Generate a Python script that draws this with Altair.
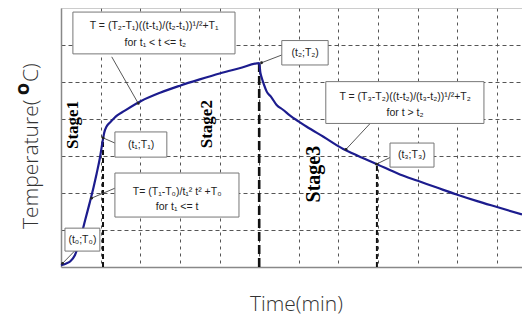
import altair as alt
import pandas as pd

# ---- curve (time in grid units, temperature in grid units)
curve_t = [0.00, 0.12, 0.23, 0.35, 0.48, 0.61, 0.73, 0.82, 0.90, 0.98, 1.06,
           1.09, 1.15, 1.25, 1.41, 1.60, 2.01, 2.50, 3.00, 3.50, 4.00, 4.50, 5.00,
           5.03, 5.06, 5.12, 5.19, 5.30, 5.44, 5.60, 5.78, 6.00, 6.20, 6.62, 7.12,
           7.50, 7.97, 8.55, 9.00, 9.50, 9.98, 10.50, 11.00, 11.63]
curve_T = [0.05, 0.09, 0.15, 0.32, 0.73, 1.27, 1.76, 2.15, 2.53, 2.94, 3.46,
           3.63, 3.80, 3.92, 4.09, 4.22, 4.48, 4.71, 4.90, 5.07, 5.23, 5.37, 5.51,
           5.25, 5.13, 4.93, 4.74, 4.60, 4.38, 4.25, 4.09, 3.93, 3.79, 3.52, 3.19,
           3.00, 2.78, 2.50, 2.33, 2.14, 1.96, 1.78, 1.62, 1.42]

# ---- stage boundary markers
marker_t = [1.06, 7.97]
marker_T = [3.46, 2.78]
peak_t = [5.00]
peak_T = [5.51]

# ---- annotation boxes
box_t1 = [0.30, 1.36, 5.57, 6.68, 8.30, 1.36, 0.10]
box_t2 = [4.39, 2.67, 6.74, 10.67, 9.41, 4.49, 0.98]
box_T1 = [5.76, 2.97, 5.46, 3.88, 2.70, 1.35, 0.43]
box_T2 = [6.89, 3.65, 6.12, 5.01, 3.35, 2.54, 1.05]

# ---- annotation texts
note_t = [2.35, 2.38, 2.02, 6.16, 8.68, 8.68, 8.85, 2.93, 2.93, 0.54]
note_T = [6.51, 6.05, 3.31, 5.79, 4.60, 4.15, 3.03, 2.04, 1.61, 0.74]
note_text = ["T = (T\u2082-T\u2081)((t-t\u2081)/(t\u2082-t\u2081))\u00b9/\u00b2+T\u2081",
             "for t\u2081 < t <= t\u2082",
             "(t\u2081;T\u2081)",
             "(t\u2082;T\u2082)",
             "T = (T\u2083-T\u2082)((t-t\u2082)/(t\u2083-t\u2082))\u00b9/\u00b2+T\u2082",
             "for t > t\u2082",
             "(t\u2083;T\u2083)",
             "T= (T\u2081-T\u2080)/t\u2081\u00b2 t\u00b2 +T\u2080",
             "for t\u2081 <= t",
             "(t\u2080;T\u2080)"]

# ---- leader lines (from box to curve)
lead_t1 = [1.28, 1.36, 5.57, 7.80, 8.30, 1.36, 0.35]
lead_T1 = [5.68, 3.35, 5.73, 3.88, 2.96, 2.13, 0.44]
lead_t2 = [1.95, 1.06, 5.06, 7.19, 7.96, 0.77, 0.04]
lead_T2 = [4.42, 3.49, 5.52, 3.18, 2.78, 1.86, 0.10]

# ---- stage labels
stage_t = [0.30, 3.68, 6.38]
stage_T = [3.84, 3.86, 2.51]
stage_text = ["Stage1", "Stage2", "Stage3"]
stage_size = [17, 17, 20]

# ---- y title pieces
ytitle_t = [-0.73, -0.95, -0.73]
ytitle_T = [1.03, 4.64, 5.00]
ytitle_text = ["Temperature(", "o", "C)"]
ytitle_weight = ["normal", "bold", "normal"]

x_ticks = list(range(1, 12))
y_ticks = list(range(1, 7))

xs = alt.Scale(domain=[0, 11.63], nice=False, zero=False)
ys = alt.Scale(domain=[0, 7], nice=False, zero=False)

xaxis = alt.Axis(values=x_ticks, labels=False, ticks=False, grid=True,
                 gridColor="#555", gridDash=[3, 4], gridWidth=1,
                 domainColor="#888", domainWidth=1.5,
                 title="Time(min)", titleFont="Open Sans", titleFontSize=21,
                 titleFontWeight=300, titleColor="#333",
                 titleX=235, titleY=37, titleBaseline="middle", titleAlign="center")
yaxis = alt.Axis(values=y_ticks, labels=False, ticks=False, grid=True,
                 gridColor="#555", gridDash=[4, 3], gridWidth=1,
                 domainColor="#888", domainWidth=1.5, title="")

def X(f="t"):
    return alt.X(f + ":Q", scale=xs, axis=xaxis)

def Y(f="T"):
    return alt.Y(f + ":Q", scale=ys, axis=yaxis)

curve_df = pd.DataFrame({"t": curve_t, "T": curve_T, "o": range(len(curve_t))})
marker_df = pd.DataFrame({"t": marker_t, "T": marker_T, "z": [0.0] * len(marker_t)})
peak_df = pd.DataFrame({"t": peak_t, "T": peak_T, "z": [0.0]})
box_df = pd.DataFrame({"t": box_t1, "t2": box_t2, "T": box_T1, "T2": box_T2})
note_df = pd.DataFrame({"t": note_t, "T": note_T, "label": note_text})
lead_df = pd.DataFrame({"t": lead_t1, "T": lead_T1, "t2": lead_t2, "T2": lead_T2})
stage_df = pd.DataFrame({"t": stage_t, "T": stage_T, "label": stage_text, "fs": stage_size})
yt_df = pd.DataFrame({"t": ytitle_t, "T": ytitle_T, "label": ytitle_text, "w": ytitle_weight})

top_border = alt.Chart(pd.DataFrame({"t": [0.0], "t2": [11.63], "T": [7.0]})).mark_rule(
    color="#999", strokeWidth=1).encode(x=X(), x2="t2:Q", y=Y())

markers = alt.Chart(marker_df).mark_rule(color="#111", strokeWidth=2, strokeDash=[5, 3]).encode(
    x=X(), y=Y("z"), y2="T:Q")
peak = alt.Chart(peak_df).mark_rule(color="#111", strokeWidth=2.6, strokeDash=[9, 4]).encode(
    x=X(), y=Y("z"), y2="T:Q")

curve = alt.Chart(curve_df).mark_line(color="#1c1c8e", strokeWidth=2.2, interpolate="monotone").encode(
    x=X(), y=Y(), order="o:Q")

leads = alt.Chart(lead_df).mark_rule(color="#444", strokeWidth=0.9).encode(
    x=X(), y=Y(), x2="t2:Q", y2="T2:Q")
lead_ends = alt.Chart(lead_df).mark_point(color="#222", filled=True, size=8, opacity=1).encode(
    x=X("t2"), y=Y("T2"))

boxes = alt.Chart(box_df).mark_rect(fill="white", stroke="#777", strokeWidth=1).encode(
    x=X(), x2="t2:Q", y=Y(), y2="T2:Q")

notes = alt.Chart(note_df).mark_text(font="Liberation Sans", fontSize=10.5, color="#222",
                                     align="center", baseline="middle").encode(
    x=X(), y=Y(), text="label:N")

stages = alt.Chart(stage_df).mark_text(font="Liberation Serif", fontWeight="bold",
                                       color="#000", angle=270, align="center",
                                       baseline="middle").encode(
    x=X(), y=Y(), text="label:N", size=alt.Size("fs:Q", scale=None, legend=None))

ytitle_main = alt.Chart(yt_df[yt_df.w == "normal"]).mark_text(
    font="Open Sans", fontSize=21, fontWeight=300, color="#333", angle=270,
    align="left", baseline="middle").encode(x=X(), y=Y(), text="label:N")
ytitle_o = alt.Chart(yt_df[yt_df.w == "bold"]).mark_text(
    font="Open Sans", fontSize=20, fontWeight="bold", color="#111", angle=270,
    align="left", baseline="middle").encode(x=X(), y=Y(), text="label:N")

chart = alt.layer(
    top_border, markers, peak, curve, leads, lead_ends, boxes, notes, stages,
    ytitle_main, ytitle_o
).properties(
    width=461, height=259,
    autosize=alt.AutoSizeParams(type="none"),
    padding={"left": 53, "top": 0, "right": 0, "bottom": 48},
).configure_view(strokeOpacity=0)

chart.save("out.html", embed_options={"renderer": "svg", "actions": False})
